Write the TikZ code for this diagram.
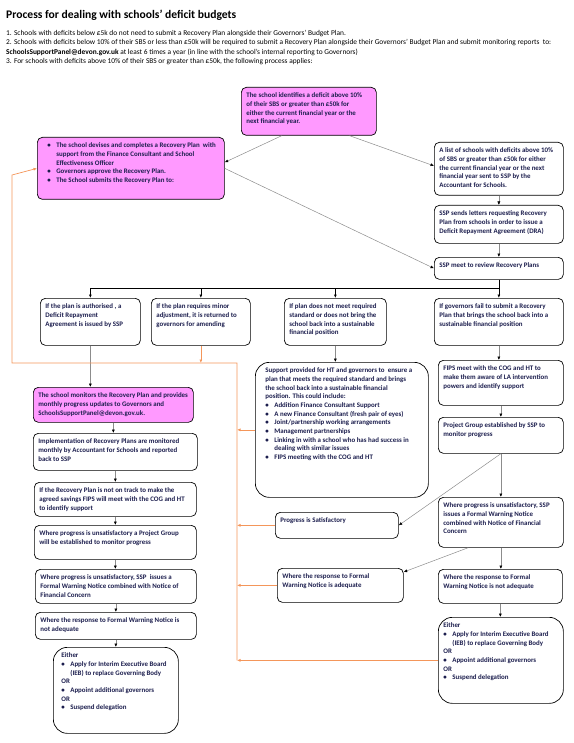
\documentclass[tikz,border=0pt]{standalone}
\usepackage{fontspec}
\setmainfont{Carlito}
\usetikzlibrary{calc,arrows.meta,positioning}

\definecolor{pinkbox}{RGB}{255,153,255}
\definecolor{orangeline}{RGB}{244,150,90}
\definecolor{navytext}{RGB}{28,30,78}
\definecolor{linegray}{RGB}{140,140,140}

% text inside a box: width, height, content
\newcommand{\btxt}[3]{\parbox[t][#2][t]{#1}{\raggedright #3}}
\newcommand{\bul}[1]{\par\noindent\hangindent=9pt\hangafter=1\hbox to 9pt{\textbullet\hfil}#1}

\begin{document}
\begin{tikzpicture}[x=1pt,y=-1pt,
    box/.style={draw=black, line width=0.7pt, rounded corners=5pt, fill=white,
      anchor=north west, inner xsep=5pt, inner ysep=5.5pt, text=navytext,
      font=\fontsize{6.9}{8.7}\selectfont\bfseries},
    pinkb/.style={box, fill=pinkbox},
    bigb/.style={box, rounded corners=14pt},
    conn/.style={draw=linegray, line width=0.5pt, -{Latex[length=3.5pt,width=3pt,color=black]}},
    bus/.style={draw=black, line width=0.7pt},
    busarr/.style={bus, -{Latex[length=3.5pt,width=3pt]}},
    ret/.style={draw=orangeline, line width=0.7pt},
    retarr/.style={ret, -{Latex[length=3.5pt,width=3pt]}}]
    \useasboundingbox (0,0) rectangle (573,743);

    % heading
    \node[anchor=base west, inner sep=0pt, font=\fontsize{11.6}{14}\selectfont\bfseries] (title) at (6,19)
        {Process for dealing with schools’ deficit budgets};
    \node[anchor=north west, inner sep=0pt, align=left, font=\fontsize{7.4}{9.3}\selectfont] (notes) at (6,30)
        {1. Schools with deficits below £5k do not need to submit a Recovery Plan alongside their Governors’ Budget Plan.\\
         2. Schools with deficits below 10\% of their SBS or less than £50k will be required to submit a Recovery Plan alongside their Governors’ Budget Plan and submit monitoring reports\ \ to:\\
         \textbf{SchoolsSupportPanel@devon.gov.uk} at least 6 times a year (in line with the school’s internal reporting to Governors)\\
         3. For schools with deficits above 10\% of their SBS or greater than £50k, the following process applies:};

    % top of the process
    \node[pinkb] (top) at (241,87) {\btxt{125pt}{37pt}{The school identifies a deficit above 10\%\\ of their SBS or greater than £50k for\\ either the current financial year or the\\ next financial year.}};
    \node[pinkb] (plan) at (37,137) {\btxt{177pt}{51pt}{\leftskip=5pt
        \bul{The school devises and completes a Recovery Plan\ \ with\newline support from the Finance Consultant and School\newline Effectiveness Officer}
        \bul{Governors approve the Recovery Plan.}
        \bul{The School submits the Recovery Plan to:}}};
    \node[box] (list) at (434,142) {\btxt{119pt}{42pt}{A list of schools with deficits above 10\%\\ of SBS or greater than £50k for either\\ the current financial year or the next\\ financial year sent to SSP by the\\ Accountant for Schools.}};
    \node[box] (sends) at (434,205) {\btxt{119pt}{27pt}{SSP sends letters requesting Recovery\\ Plan from schools in order to issue a\\ Deficit Repayment Agreement (DRA)}};
    \node[box] (meet) at (434,257) {\btxt{119pt}{11pt}{SSP meet to review Recovery Plans}};

    % outcomes of the review
    \node[box] (rA) at (40,298) {\btxt{90pt}{36pt}{If the plan is authorised , a\\ Deficit Repayment\\ Agreement is issued by SSP}};
    \node[box] (rB) at (151,298) {\btxt{89pt}{36pt}{If the plan requires minor\\ adjustment, it is returned to\\ governors for amending}};
    \node[box] (rC) at (284,298) {\btxt{92pt}{36pt}{If plan does not meet required\\ standard or does not bring the\\ school back into a sustainable\\ financial position}};
    \node[box] (rD) at (434,298) {\btxt{119pt}{36pt}{If governors fail to submit a Recovery\\ Plan that brings the school back into a\\ sustainable financial position}};

    % left column
    \node[pinkb] (mon) at (33,387) {\btxt{150pt}{24pt}{The school monitors the Recovery Plan and provides\\ monthly progress updates to Governors and\\ SchoolsSupportPanel@devon.gov.uk.}};
    \node[box] (impl) at (33,433) {\btxt{154pt}{26pt}{Implementation of Recovery Plans are monitored\\ monthly by Accountant for Schools and reported\\ back to SSP}};
    \node[box] (track) at (34,482) {\btxt{152pt}{23pt}{If the Recovery Plan is not on track to make the\\ agreed savings FIPS will meet with the COG and HT\\ to identify support}};
    \node[box] (pgL) at (34,525) {\btxt{152pt}{23pt}{Where progress is unsatisfactory a Project Group\\ will be established to monitor progress}};
    \node[box] (warnL) at (35,569) {\btxt{151pt}{23pt}{Where progress is unsatisfactory, SSP\ \ issues a\\ Formal Warning Notice combined with Notice of\\ Financial Concern}};
    \node[box] (nadL) at (35,612) {\btxt{151pt}{16pt}{Where the response to Formal Warning Notice is\\ not adequate}};
    \node[bigb, inner xsep=8pt] (eitL) at (53,647) {\btxt{109pt}{75pt}{Either
        \bul{Apply for Interim Executive Board\newline (IEB) to replace Governing Body}
        \par OR
        \bul{Appoint additional governors}
        \par OR
        \bul{Suspend delegation}}};

    % middle column
    \node[bigb, inner xsep=10pt] (supp) at (255,362) {\btxt{153pt}{124pt}{Support provided for HT and governors to\ \ ensure a\\ plan that meets the required standard and brings\\ the school back into a sustainable financial\\ position. This could include:
        \bul{Addition Finance Consultant Support}
        \bul{A new Finance Consultant (fresh pair of eyes)}
        \bul{Joint/partnership working arrangements}
        \bul{Management partnerships}
        \bul{Linking in with a school who has had success in\newline dealing with similar issues}
        \bul{FIPS meeting with the COG and HT}}};
    \node[box] (sat) at (275,512) {\btxt{113pt}{15pt}{Progress is Satisfactory}};
    \node[box] (adq) at (277,568) {\btxt{116pt}{23pt}{Where the response to Formal\\ Warning Notice is adequate}};

    % right column
    \node[box] (fips) at (438,360) {\btxt{115pt}{34pt}{FIPS meet with the COG and HT to\\ make them aware of LA intervention\\ powers and identify support}};
    \node[box] (proj) at (438,417) {\btxt{115pt}{25pt}{Project Group established by SSP to\\ monitor progress}};
    \node[box] (warnR) at (438,497) {\btxt{115pt}{39pt}{Where progress is unsatisfactory, SSP\\ issues a Formal Warning Notice\\ combined with Notice of Financial\\ Concern}};
    \node[box] (nadR) at (438,569) {\btxt{114pt}{23pt}{Where the response to Formal\\ Warning Notice is not adequate}};
    \node[bigb] (eitR) at (438,617) {\btxt{115pt}{75pt}{Either
        \bul{Apply for Interim Executive Board\newline (IEB) to replace Governing Body}
        \par OR
        \bul{Appoint additional governors}
        \par OR
        \bul{Suspend delegation}}};

    % grey connectors
    \draw[conn] ($(top.south west)!.3!(top.south east)$) -- ([yshift=6pt]plan.east);
    \draw[conn] ($(top.south west)!.8!(top.south east)$) -- ([yshift=3pt]list.west);
    \draw[conn] (plan.east) -- (meet.west);
    \foreach \a/\b in {list/sends, sends/meet, rD/fips, fips/proj, proj/warnR, warnR/nadR, nadR/eitR,
                       mon/impl, impl/track, track/pgL, pgL/warnL, warnL/nadL, nadL/eitL, rA/mon, rC/supp}
        \draw[conn] (\a.south) -- (\a.south |- \b.north);
    \draw[conn] (proj.south) -- (sat.east);
    \draw[conn] ($(warnR.south west)!.24!(warnR.south east)$) -- ([yshift=-4pt]adq.north east);

    % review branches
    \coordinate (busR) at ($(meet.south)+(0,9)$);
    \draw[bus] (meet.south) -- (busR) -- (busR -| rA.north);
    \foreach \n in {rA,rB,rC,rD}
        \draw[busarr] (\n.north |- busR) -- (\n.north);

    % orange return path
    \coordinate (upR) at (237,363);
    \coordinate (upL) at (12,363);
    \foreach \n in {eitR,adq,sat,supp}
        \draw[retarr] (\n.west) -- (\n.west -| upR);
    \draw[retarr] (rB.south) -- (rB.south |- upR);
    \draw[retarr] (eitR.west -| upR) -- (upR) -- (upL) -- (12,175) -- (plan.west);
\end{tikzpicture}
\end{document}
